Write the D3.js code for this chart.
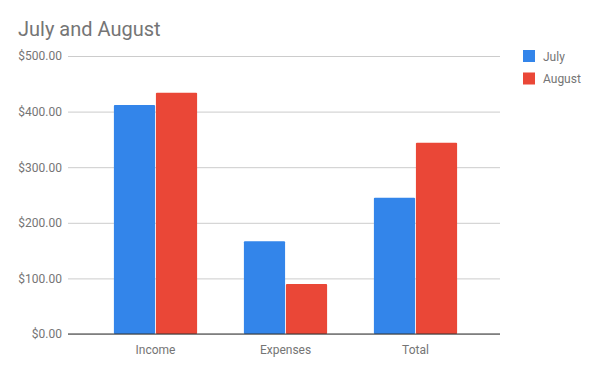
<!DOCTYPE html>
<html>
<head>
<meta charset="utf-8">
<script src="https://cdn.jsdelivr.net/npm/d3@7"></script>
<style>
  body { margin: 0; background: #fff; }
  text { font-family: Roboto, sans-serif; }
</style>
</head>
<body>
<div id="chart"></div>
<script>
let svgWidth = 600;
let svgHeight = 371;

// data
let categories = ["Income", "Expenses", "Total"];
let seriesNames = ["July", "August"];
let july = [412, 167, 245];
let august = [434, 90, 344];
let yTicks = [0, 100, 200, 300, 400, 500];
let colors = ["#3385ea", "#ea4737"];

let svg = d3.select("#chart")
    .append("svg")
    .attr("width", svgWidth)
    .attr("height", svgHeight);

// title
svg.append("text")
    .attr("x", 18)
    .attr("y", 36)
    .attr("font-size", 20)
    .attr("fill", "#757575")
    .text("July and August");

let yScale = d3.scaleLinear()
    .domain([0, 500])
    .range([334, 56]);

let xScale = d3.scaleBand()
    .domain(categories)
    .range([90.5, 480.5])
    .paddingInner(0.36)
    .paddingOuter(0.18);

let xInner = d3.scaleBand()
    .domain(seriesNames)
    .range([0, xScale.bandwidth()])
    .paddingInner(0.02);

// gridlines and y labels
let leftAxis = d3.axisLeft(yScale)
    .tickValues(yTicks)
    .tickSize(-(500 - 68))
    .tickPadding(6)
    .tickFormat(d => "$" + d3.format(".2f")(d));

let yAxis = svg.append("g")
    .attr("transform", "translate(68,0)")
    .call(leftAxis);
yAxis.select(".domain").remove();
yAxis.selectAll(".tick line").attr("stroke", "#cccccc");
yAxis.selectAll(".tick text")
    .attr("fill", "#757575")
    .attr("font-size", 12)
    .attr("font-family", "Roboto, sans-serif");

// bars
let rows = categories.map((c, i) => ({ cat: c, values: [july[i], august[i]] }));

let groups = svg.append("g").selectAll("g")
    .data(rows)
    .enter()
    .append("g")
    .attr("transform", d => `translate(${xScale(d.cat)},0)`);

groups.selectAll("rect")
    .data(d => d.values.map((v, j) => ({ name: seriesNames[j], value: v, idx: j })))
    .enter()
    .append("rect")
    .attr("x", d => xInner(d.name))
    .attr("y", d => yScale(d.value))
    .attr("width", xInner.bandwidth())
    .attr("height", d => yScale(0) - yScale(d.value))
    .attr("rx", 1)
    .attr("fill", d => colors[d.idx]);

// baseline and x labels
let bottomAxis = d3.axisBottom(xScale).tickSize(0).tickPadding(11);
let xAxis = svg.append("g")
    .attr("transform", `translate(0, ${yScale(0)})`)
    .call(bottomAxis);
xAxis.select(".domain").remove();
xAxis.append("line")
    .attr("x1", 68)
    .attr("x2", 500)
    .attr("stroke", "#333333");
xAxis.selectAll(".tick text")
    .attr("fill", "#757575")
    .attr("font-size", 12)
    .attr("font-family", "Roboto, sans-serif");

// legend
let legend = svg.append("g")
    .attr("transform", "translate(523, 50)");

let items = legend.selectAll("g")
    .data(seriesNames)
    .enter()
    .append("g")
    .attr("transform", (d, i) => `translate(0, ${i * 22.5})`);

items.append("rect")
    .attr("width", 12)
    .attr("height", 12)
    .attr("fill", (d, i) => colors[i]);

items.append("text")
    .attr("x", 20)
    .attr("y", 10.5)
    .attr("font-size", 12)
    .attr("fill", "#757575")
    .text(d => d);
</script>
</body>
</html>
